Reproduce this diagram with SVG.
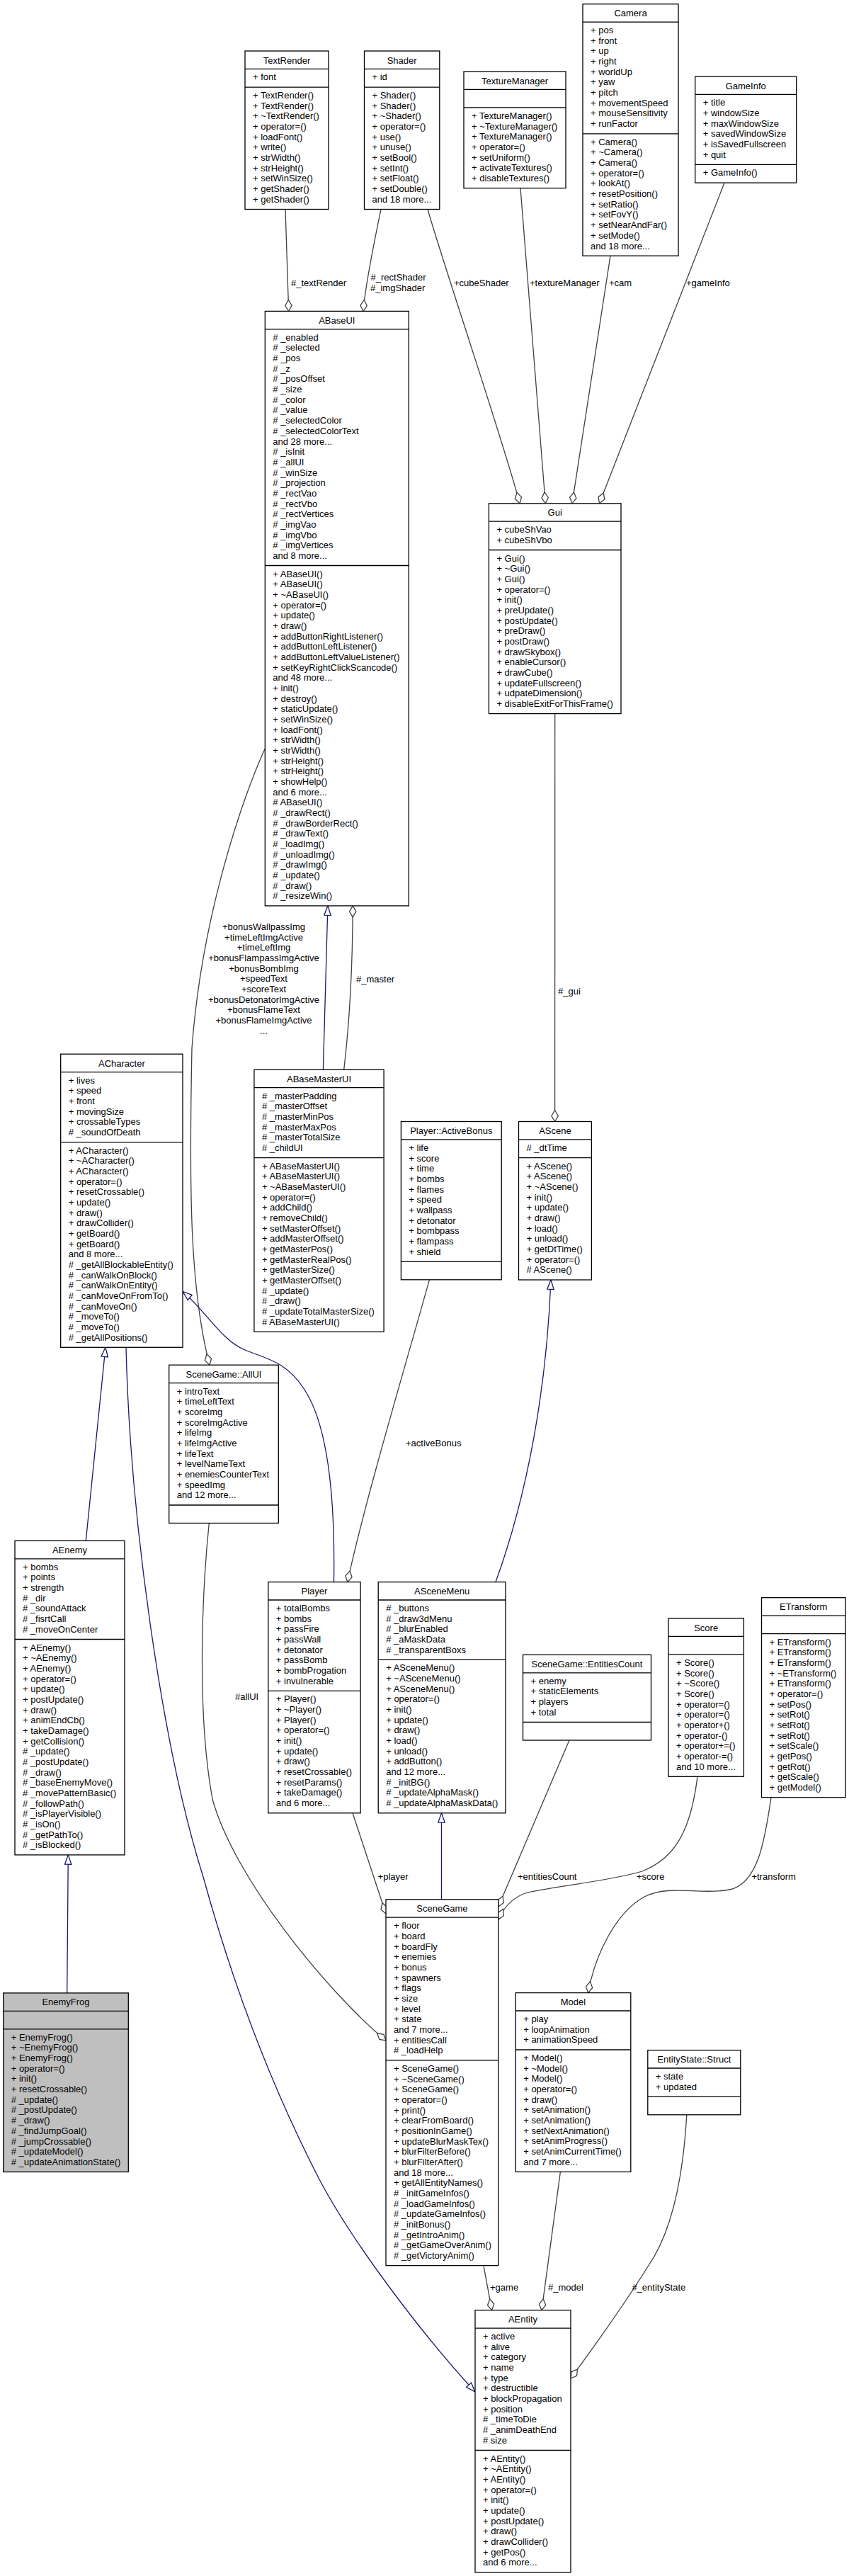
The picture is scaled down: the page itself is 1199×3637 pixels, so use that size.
<svg xmlns="http://www.w3.org/2000/svg" width="1199" height="3637" viewBox="0 0 1199 3637">
<style>
.t{font-family:"Liberation Sans",Arial,Helvetica,sans-serif;font-size:13px;fill:#000}
.c{text-anchor:middle}
.box{fill:#fff;stroke:#000;stroke-width:1.3}
.root{fill:#bfbfbf;stroke:#000;stroke-width:1.3}
.sep{fill:none;stroke:#000;stroke-width:1.3}
.e{fill:none;stroke:#404040;stroke-width:1.3;marker-end:url(#ad)}
.i{fill:none;stroke:#191970;stroke-width:1.3;marker-end:url(#ai)}
</style>
<defs>
<marker id="ai" markerUnits="userSpaceOnUse" markerWidth="14" markerHeight="10" refX="13.3" refY="0" orient="auto" overflow="visible"><path d="M0,-4.7 L13.3,0 L0,4.7 Z" fill="#fff" stroke="#191970" stroke-width="1.3"/></marker>
<marker id="ad" markerUnits="userSpaceOnUse" markerWidth="16" markerHeight="10" refX="16" refY="0" orient="auto" overflow="visible"><path d="M0,0 L8,-4.7 L16,0 L8,4.7 Z" fill="#fff" stroke="#404040" stroke-width="1.3"/></marker>
</defs>
<rect width="1199" height="3637" fill="#fff"/>
<g id="edges">
<path class="e" d="M403,295.5 L407.7,439.4"/>
<path class="e" d="M538,295.5 C533,320 516,400 513,439.4"/>
<path class="e" d="M604,295.5 C625,370 710,620 734,710.8"/>
<path class="e" d="M735,265.6 L770.3,710.8"/>
<path class="e" d="M862,361.2 L808,710.8"/>
<path class="e" d="M1023,258.1 L846.5,710.8"/>
<path class="i" d="M456.4,1510.3 L462.9,1278.9"/>
<path class="e" d="M485.7,1510.3 C494,1440 498,1360 498.2,1278.9"/>
<path class="e" d="M374.3,1057 C345,1120 285,1290 271,1480 C267,1680 268,1820 296,1927.2"/>
<path class="e" d="M783.7,1007.6 L783.6,1583.5"/>
<path class="i" d="M121.3,2175.4 L149,1902.3"/>
<path class="i" d="M471.5,2233.6 C473,2140 468,2020 430,1962 C405,1922 375,1918 346,1906 C312,1892 290,1850 258,1823.4"/>
<path class="i" d="M178,1902.3 C184,2150 230,2470 287,2650 C320,2770 370,2920 451,3077 C500,3170 600,3300 671,3377"/>
<path class="i" d="M94.7,2813.9 L96.3,2618.9"/>
<path class="e" d="M606.4,1806.8 C575,1920 515,2120 490.8,2233.6"/>
<path class="i" d="M700,2233.6 C745,2110 772,1960 778,1807"/>
<path class="i" d="M623.5,2681.8 L623.5,2559.8"/>
<path class="e" d="M295.3,2150.5 C285,2250 278,2420 300,2540 C330,2650 460,2810 545,2881"/>
<path class="e" d="M498,2559.8 L545,2702"/>
<path class="e" d="M804,2457 L703.8,2692"/>
<path class="e" d="M985,2508.3 C975,2590 950,2625 907,2642 C860,2656 790,2662 745,2672 C725,2678 712,2692 703.8,2710"/>
<path class="e" d="M1089,2537.7 C1080,2600 1070,2660 1030,2668 C990,2676 945,2660 910,2678 C870,2700 840,2760 830.7,2813.6"/>
<path class="e" d="M682.9,3198.6 L694.6,3261.7"/>
<path class="e" d="M791.4,3066.4 L765,3261.7"/>
<path class="e" d="M969.8,2985.8 C965,3070 950,3150 915,3200 C890,3240 845,3305 806,3358"/>
<text class="t" x="411" y="403.5">#_textRender</text>
<text class="t" x="523.5" y="395.5">#_rectShader</text>
<text class="t" x="523" y="410.5">#_imgShader</text>
<text class="t" x="641" y="403.5">+cubeShader</text>
<text class="t" x="748" y="403.5">+textureManager</text>
<text class="t" x="860" y="403.5">+cam</text>
<text class="t" x="969" y="403.5">+gameInfo</text>
<text class="t" x="503" y="1386.5">#_master</text>
<text class="t c" y="1312.8"><tspan x="372.5">+bonusWallpassImg</tspan><tspan x="372.5" dy="14.7">+timeLeftImgActive</tspan><tspan x="372.5" dy="14.7">+timeLeftImg</tspan><tspan x="372.5" dy="14.7">+bonusFlampassImgActive</tspan><tspan x="372.5" dy="14.7">+bonusBombImg</tspan><tspan x="372.5" dy="14.7">+speedText</tspan><tspan x="372.5" dy="14.7">+scoreText</tspan><tspan x="372.5" dy="14.7">+bonusDetonatorImgActive</tspan><tspan x="372.5" dy="14.7">+bonusFlameText</tspan><tspan x="372.5" dy="14.7">+bonusFlameImgActive</tspan><tspan x="372.5" dy="14.7">...</tspan></text>
<text class="t" x="788" y="1404">#_gui</text>
<text class="t" x="573" y="2041.5">+activeBonus</text>
<text class="t" x="332" y="2400">#allUI</text>
<text class="t" x="533.6" y="2653.5">+player</text>
<text class="t" x="731" y="2653.5">+entitiesCount</text>
<text class="t" x="899" y="2653.5">+score</text>
<text class="t" x="1061.4" y="2653.5">+transform</text>
<text class="t" x="692" y="3233.5">+game</text>
<text class="t" x="774" y="3233.5">#_model</text>
<text class="t" x="892.4" y="3233.5">#_entityState</text>
</g>
<g id="TextRender">
<rect class="box" x="346" y="72" width="118" height="223.5"/>
<path class="sep" d="M346,97.4 H464 M346,123.1 H464"/>
<text class="t c" x="405" y="89.5">TextRender</text>
<text class="t" x="357" y="113.4">+ font</text>
<text class="t" y="139.1"><tspan x="357">+ TextRender()</tspan><tspan x="357" dy="14.67">+ TextRender()</tspan><tspan x="357" dy="14.67">+ ~TextRender()</tspan><tspan x="357" dy="14.67">+ operator=()</tspan><tspan x="357" dy="14.67">+ loadFont()</tspan><tspan x="357" dy="14.67">+ write()</tspan><tspan x="357" dy="14.67">+ strWidth()</tspan><tspan x="357" dy="14.67">+ strHeight()</tspan><tspan x="357" dy="14.67">+ setWinSize()</tspan><tspan x="357" dy="14.67">+ getShader()</tspan><tspan x="357" dy="14.67">+ getShader()</tspan></text>
</g>
<g id="Shader">
<rect class="box" x="514.5" y="72" width="106.3" height="223.5"/>
<path class="sep" d="M514.5,97.4 H620.8 M514.5,123.1 H620.8"/>
<text class="t c" x="567.65" y="89.5">Shader</text>
<text class="t" x="525.5" y="113.4">+ id</text>
<text class="t" y="139.1"><tspan x="525.5">+ Shader()</tspan><tspan x="525.5" dy="14.67">+ Shader()</tspan><tspan x="525.5" dy="14.67">+ ~Shader()</tspan><tspan x="525.5" dy="14.67">+ operator=()</tspan><tspan x="525.5" dy="14.67">+ use()</tspan><tspan x="525.5" dy="14.67">+ unuse()</tspan><tspan x="525.5" dy="14.67">+ setBool()</tspan><tspan x="525.5" dy="14.67">+ setInt()</tspan><tspan x="525.5" dy="14.67">+ setFloat()</tspan><tspan x="525.5" dy="14.67">+ setDouble()</tspan><tspan x="525.5" dy="14.67">and 18 more...</tspan></text>
</g>
<g id="TextureManager">
<rect class="box" x="655" y="101" width="144" height="164.6"/>
<path class="sep" d="M655,126.4 H799 M655,151.9 H799"/>
<text class="t c" x="727" y="118.5">TextureManager</text>
<text class="t" y="167.9"><tspan x="666">+ TextureManager()</tspan><tspan x="666" dy="14.67">+ ~TextureManager()</tspan><tspan x="666" dy="14.67">+ TextureManager()</tspan><tspan x="666" dy="14.67">+ operator=()</tspan><tspan x="666" dy="14.67">+ setUniform()</tspan><tspan x="666" dy="14.67">+ activateTextures()</tspan><tspan x="666" dy="14.67">+ disableTextures()</tspan></text>
</g>
<g id="Camera">
<rect class="box" x="823" y="5.7" width="135" height="355.5"/>
<path class="sep" d="M823,31.1 H958 M823,188.8 H958"/>
<text class="t c" x="890.5" y="23.2">Camera</text>
<text class="t" y="47.1"><tspan x="834">+ pos</tspan><tspan x="834" dy="14.67">+ front</tspan><tspan x="834" dy="14.67">+ up</tspan><tspan x="834" dy="14.67">+ right</tspan><tspan x="834" dy="14.67">+ worldUp</tspan><tspan x="834" dy="14.67">+ yaw</tspan><tspan x="834" dy="14.67">+ pitch</tspan><tspan x="834" dy="14.67">+ movementSpeed</tspan><tspan x="834" dy="14.67">+ mouseSensitivity</tspan><tspan x="834" dy="14.67">+ runFactor</tspan></text>
<text class="t" y="204.8"><tspan x="834">+ Camera()</tspan><tspan x="834" dy="14.67">+ ~Camera()</tspan><tspan x="834" dy="14.67">+ Camera()</tspan><tspan x="834" dy="14.67">+ operator=()</tspan><tspan x="834" dy="14.67">+ lookAt()</tspan><tspan x="834" dy="14.67">+ resetPosition()</tspan><tspan x="834" dy="14.67">+ setRatio()</tspan><tspan x="834" dy="14.67">+ setFovY()</tspan><tspan x="834" dy="14.67">+ setNearAndFar()</tspan><tspan x="834" dy="14.67">+ setMode()</tspan><tspan x="834" dy="14.67">and 18 more...</tspan></text>
</g>
<g id="GameInfo">
<rect class="box" x="981.7" y="108" width="143" height="150.1"/>
<path class="sep" d="M981.7,133.4 H1124.7 M981.7,232.4 H1124.7"/>
<text class="t c" x="1053.2" y="125.5">GameInfo</text>
<text class="t" y="149.4"><tspan x="992.7">+ title</tspan><tspan x="992.7" dy="14.67">+ windowSize</tspan><tspan x="992.7" dy="14.67">+ maxWindowSize</tspan><tspan x="992.7" dy="14.67">+ savedWindowSize</tspan><tspan x="992.7" dy="14.67">+ isSavedFullscreen</tspan><tspan x="992.7" dy="14.67">+ quit</tspan></text>
<text class="t" x="992.7" y="248.4">+ GameInfo()</text>
</g>
<g id="ABaseUI">
<rect class="box" x="374.3" y="439.4" width="203" height="839.5"/>
<path class="sep" d="M374.3,464.8 H577.3 M374.3,798.5 H577.3"/>
<text class="t c" x="475.8" y="456.9">ABaseUI</text>
<text class="t" y="480.8"><tspan x="385.3"># _enabled</tspan><tspan x="385.3" dy="14.67"># _selected</tspan><tspan x="385.3" dy="14.67"># _pos</tspan><tspan x="385.3" dy="14.67"># _z</tspan><tspan x="385.3" dy="14.67"># _posOffset</tspan><tspan x="385.3" dy="14.67"># _size</tspan><tspan x="385.3" dy="14.67"># _color</tspan><tspan x="385.3" dy="14.67"># _value</tspan><tspan x="385.3" dy="14.67"># _selectedColor</tspan><tspan x="385.3" dy="14.67"># _selectedColorText</tspan><tspan x="385.3" dy="14.67">and 28 more...</tspan><tspan x="385.3" dy="14.67"># _isInit</tspan><tspan x="385.3" dy="14.67"># _allUI</tspan><tspan x="385.3" dy="14.67"># _winSize</tspan><tspan x="385.3" dy="14.67"># _projection</tspan><tspan x="385.3" dy="14.67"># _rectVao</tspan><tspan x="385.3" dy="14.67"># _rectVbo</tspan><tspan x="385.3" dy="14.67"># _rectVertices</tspan><tspan x="385.3" dy="14.67"># _imgVao</tspan><tspan x="385.3" dy="14.67"># _imgVbo</tspan><tspan x="385.3" dy="14.67"># _imgVertices</tspan><tspan x="385.3" dy="14.67">and 8 more...</tspan></text>
<text class="t" y="814.5"><tspan x="385.3">+ ABaseUI()</tspan><tspan x="385.3" dy="14.67">+ ABaseUI()</tspan><tspan x="385.3" dy="14.67">+ ~ABaseUI()</tspan><tspan x="385.3" dy="14.67">+ operator=()</tspan><tspan x="385.3" dy="14.67">+ update()</tspan><tspan x="385.3" dy="14.67">+ draw()</tspan><tspan x="385.3" dy="14.67">+ addButtonRightListener()</tspan><tspan x="385.3" dy="14.67">+ addButtonLeftListener()</tspan><tspan x="385.3" dy="14.67">+ addButtonLeftValueListener()</tspan><tspan x="385.3" dy="14.67">+ setKeyRightClickScancode()</tspan><tspan x="385.3" dy="14.67">and 48 more...</tspan><tspan x="385.3" dy="14.67">+ init()</tspan><tspan x="385.3" dy="14.67">+ destroy()</tspan><tspan x="385.3" dy="14.67">+ staticUpdate()</tspan><tspan x="385.3" dy="14.67">+ setWinSize()</tspan><tspan x="385.3" dy="14.67">+ loadFont()</tspan><tspan x="385.3" dy="14.67">+ strWidth()</tspan><tspan x="385.3" dy="14.67">+ strWidth()</tspan><tspan x="385.3" dy="14.67">+ strHeight()</tspan><tspan x="385.3" dy="14.67">+ strHeight()</tspan><tspan x="385.3" dy="14.67">+ showHelp()</tspan><tspan x="385.3" dy="14.67">and 6 more...</tspan><tspan x="385.3" dy="14.67"># ABaseUI()</tspan><tspan x="385.3" dy="14.67"># _drawRect()</tspan><tspan x="385.3" dy="14.67"># _drawBorderRect()</tspan><tspan x="385.3" dy="14.67"># _drawText()</tspan><tspan x="385.3" dy="14.67"># _loadImg()</tspan><tspan x="385.3" dy="14.67"># _unloadImg()</tspan><tspan x="385.3" dy="14.67"># _drawImg()</tspan><tspan x="385.3" dy="14.67"># _update()</tspan><tspan x="385.3" dy="14.67"># _draw()</tspan><tspan x="385.3" dy="14.67"># _resizeWin()</tspan></text>
</g>
<g id="Gui">
<rect class="box" x="690.4" y="710.8" width="186.6" height="296.8"/>
<path class="sep" d="M690.4,736.2 H877 M690.4,776.5 H877"/>
<text class="t c" x="783.7" y="728.3">Gui</text>
<text class="t" y="752.2"><tspan x="701.4">+ cubeShVao</tspan><tspan x="701.4" dy="14.67">+ cubeShVbo</tspan></text>
<text class="t" y="792.5"><tspan x="701.4">+ Gui()</tspan><tspan x="701.4" dy="14.67">+ ~Gui()</tspan><tspan x="701.4" dy="14.67">+ Gui()</tspan><tspan x="701.4" dy="14.67">+ operator=()</tspan><tspan x="701.4" dy="14.67">+ init()</tspan><tspan x="701.4" dy="14.67">+ preUpdate()</tspan><tspan x="701.4" dy="14.67">+ postUpdate()</tspan><tspan x="701.4" dy="14.67">+ preDraw()</tspan><tspan x="701.4" dy="14.67">+ postDraw()</tspan><tspan x="701.4" dy="14.67">+ drawSkybox()</tspan><tspan x="701.4" dy="14.67">+ enableCursor()</tspan><tspan x="701.4" dy="14.67">+ drawCube()</tspan><tspan x="701.4" dy="14.67">+ updateFullscreen()</tspan><tspan x="701.4" dy="14.67">+ udpateDimension()</tspan><tspan x="701.4" dy="14.67">+ disableExitForThisFrame()</tspan></text>
</g>
<g id="ABaseMasterUI">
<rect class="box" x="358.9" y="1510.3" width="183.2" height="370.1"/>
<path class="sep" d="M358.9,1535.7 H542.1 M358.9,1634.7 H542.1"/>
<text class="t c" x="450.5" y="1527.8">ABaseMasterUI</text>
<text class="t" y="1551.7"><tspan x="369.9"># _masterPadding</tspan><tspan x="369.9" dy="14.67"># _masterOffset</tspan><tspan x="369.9" dy="14.67"># _masterMinPos</tspan><tspan x="369.9" dy="14.67"># _masterMaxPos</tspan><tspan x="369.9" dy="14.67"># _masterTotalSize</tspan><tspan x="369.9" dy="14.67"># _childUI</tspan></text>
<text class="t" y="1650.7"><tspan x="369.9">+ ABaseMasterUI()</tspan><tspan x="369.9" dy="14.67">+ ABaseMasterUI()</tspan><tspan x="369.9" dy="14.67">+ ~ABaseMasterUI()</tspan><tspan x="369.9" dy="14.67">+ operator=()</tspan><tspan x="369.9" dy="14.67">+ addChild()</tspan><tspan x="369.9" dy="14.67">+ removeChild()</tspan><tspan x="369.9" dy="14.67">+ setMasterOffset()</tspan><tspan x="369.9" dy="14.67">+ addMasterOffset()</tspan><tspan x="369.9" dy="14.67">+ getMasterPos()</tspan><tspan x="369.9" dy="14.67">+ getMasterRealPos()</tspan><tspan x="369.9" dy="14.67">+ getMasterSize()</tspan><tspan x="369.9" dy="14.67">+ getMasterOffset()</tspan><tspan x="369.9" dy="14.67"># _update()</tspan><tspan x="369.9" dy="14.67"># _draw()</tspan><tspan x="369.9" dy="14.67"># _updateTotalMasterSize()</tspan><tspan x="369.9" dy="14.67"># ABaseMasterUI()</tspan></text>
</g>
<g id="PlayerActiveBonus">
<rect class="box" x="566.4" y="1583.5" width="141.8" height="223.3"/>
<path class="sep" d="M566.4,1608.9 H708.2 M566.4,1781.3 H708.2"/>
<text class="t c" x="637.3" y="1601">Player::ActiveBonus</text>
<text class="t" y="1624.9"><tspan x="577.4">+ life</tspan><tspan x="577.4" dy="14.67">+ score</tspan><tspan x="577.4" dy="14.67">+ time</tspan><tspan x="577.4" dy="14.67">+ bombs</tspan><tspan x="577.4" dy="14.67">+ flames</tspan><tspan x="577.4" dy="14.67">+ speed</tspan><tspan x="577.4" dy="14.67">+ wallpass</tspan><tspan x="577.4" dy="14.67">+ detonator</tspan><tspan x="577.4" dy="14.67">+ bombpass</tspan><tspan x="577.4" dy="14.67">+ flampass</tspan><tspan x="577.4" dy="14.67">+ shield</tspan></text>
</g>
<g id="AScene">
<rect class="box" x="732.5" y="1583.5" width="102.9" height="223.5"/>
<path class="sep" d="M732.5,1608.9 H835.4 M732.5,1634.6 H835.4"/>
<text class="t c" x="783.95" y="1601">AScene</text>
<text class="t" x="743.5" y="1624.9"># _dtTime</text>
<text class="t" y="1650.6"><tspan x="743.5">+ AScene()</tspan><tspan x="743.5" dy="14.67">+ AScene()</tspan><tspan x="743.5" dy="14.67">+ ~AScene()</tspan><tspan x="743.5" dy="14.67">+ init()</tspan><tspan x="743.5" dy="14.67">+ update()</tspan><tspan x="743.5" dy="14.67">+ draw()</tspan><tspan x="743.5" dy="14.67">+ load()</tspan><tspan x="743.5" dy="14.67">+ unload()</tspan><tspan x="743.5" dy="14.67">+ getDtTime()</tspan><tspan x="743.5" dy="14.67">+ operator=()</tspan><tspan x="743.5" dy="14.67"># AScene()</tspan></text>
</g>
<g id="ACharacter">
<rect class="box" x="85.7" y="1488.2" width="172.3" height="414.1"/>
<path class="sep" d="M85.7,1513.6 H258 M85.7,1612.6 H258"/>
<text class="t c" x="171.85" y="1505.7">ACharacter</text>
<text class="t" y="1529.6"><tspan x="96.7">+ lives</tspan><tspan x="96.7" dy="14.67">+ speed</tspan><tspan x="96.7" dy="14.67">+ front</tspan><tspan x="96.7" dy="14.67">+ movingSize</tspan><tspan x="96.7" dy="14.67">+ crossableTypes</tspan><tspan x="96.7" dy="14.67"># _soundOfDeath</tspan></text>
<text class="t" y="1628.6"><tspan x="96.7">+ ACharacter()</tspan><tspan x="96.7" dy="14.67">+ ~ACharacter()</tspan><tspan x="96.7" dy="14.67">+ ACharacter()</tspan><tspan x="96.7" dy="14.67">+ operator=()</tspan><tspan x="96.7" dy="14.67">+ resetCrossable()</tspan><tspan x="96.7" dy="14.67">+ update()</tspan><tspan x="96.7" dy="14.67">+ draw()</tspan><tspan x="96.7" dy="14.67">+ drawCollider()</tspan><tspan x="96.7" dy="14.67">+ getBoard()</tspan><tspan x="96.7" dy="14.67">+ getBoard()</tspan><tspan x="96.7" dy="14.67">and 8 more...</tspan><tspan x="96.7" dy="14.67"># _getAllBlockableEntity()</tspan><tspan x="96.7" dy="14.67"># _canWalkOnBlock()</tspan><tspan x="96.7" dy="14.67"># _canWalkOnEntity()</tspan><tspan x="96.7" dy="14.67"># _canMoveOnFromTo()</tspan><tspan x="96.7" dy="14.67"># _canMoveOn()</tspan><tspan x="96.7" dy="14.67"># _moveTo()</tspan><tspan x="96.7" dy="14.67"># _moveTo()</tspan><tspan x="96.7" dy="14.67"># _getAllPositions()</tspan></text>
</g>
<g id="SceneGameAllUI">
<rect class="box" x="238.7" y="1927.2" width="154.6" height="223.3"/>
<path class="sep" d="M238.7,1952.6 H393.3 M238.7,2125 H393.3"/>
<text class="t c" x="316" y="1944.7">SceneGame::AllUI</text>
<text class="t" y="1968.6"><tspan x="249.7">+ introText</tspan><tspan x="249.7" dy="14.67">+ timeLeftText</tspan><tspan x="249.7" dy="14.67">+ scoreImg</tspan><tspan x="249.7" dy="14.67">+ scoreImgActive</tspan><tspan x="249.7" dy="14.67">+ lifeImg</tspan><tspan x="249.7" dy="14.67">+ lifeImgActive</tspan><tspan x="249.7" dy="14.67">+ lifeText</tspan><tspan x="249.7" dy="14.67">+ levelNameText</tspan><tspan x="249.7" dy="14.67">+ enemiesCounterText</tspan><tspan x="249.7" dy="14.67">+ speedImg</tspan><tspan x="249.7" dy="14.67">and 12 more...</tspan></text>
</g>
<g id="AEnemy">
<rect class="box" x="21" y="2175.4" width="155" height="443.5"/>
<path class="sep" d="M21,2200.8 H176 M21,2314.5 H176"/>
<text class="t c" x="98.5" y="2192.9">AEnemy</text>
<text class="t" y="2216.8"><tspan x="32">+ bombs</tspan><tspan x="32" dy="14.67">+ points</tspan><tspan x="32" dy="14.67">+ strength</tspan><tspan x="32" dy="14.67"># _dir</tspan><tspan x="32" dy="14.67"># _soundAttack</tspan><tspan x="32" dy="14.67"># _fisrtCall</tspan><tspan x="32" dy="14.67"># _moveOnCenter</tspan></text>
<text class="t" y="2330.5"><tspan x="32">+ AEnemy()</tspan><tspan x="32" dy="14.67">+ ~AEnemy()</tspan><tspan x="32" dy="14.67">+ AEnemy()</tspan><tspan x="32" dy="14.67">+ operator=()</tspan><tspan x="32" dy="14.67">+ update()</tspan><tspan x="32" dy="14.67">+ postUpdate()</tspan><tspan x="32" dy="14.67">+ draw()</tspan><tspan x="32" dy="14.67">+ animEndCb()</tspan><tspan x="32" dy="14.67">+ takeDamage()</tspan><tspan x="32" dy="14.67">+ getCollision()</tspan><tspan x="32" dy="14.67"># _update()</tspan><tspan x="32" dy="14.67"># _postUpdate()</tspan><tspan x="32" dy="14.67"># _draw()</tspan><tspan x="32" dy="14.67"># _baseEnemyMove()</tspan><tspan x="32" dy="14.67"># _movePatternBasic()</tspan><tspan x="32" dy="14.67"># _followPath()</tspan><tspan x="32" dy="14.67"># _isPlayerVisible()</tspan><tspan x="32" dy="14.67"># _isOn()</tspan><tspan x="32" dy="14.67"># _getPathTo()</tspan><tspan x="32" dy="14.67"># _isBlocked()</tspan></text>
</g>
<g id="EnemyFrog">
<rect class="root" x="4.7" y="2813.9" width="176.6" height="252.6"/>
<path class="sep" d="M4.7,2839.3 H181.3 M4.7,2864.8 H181.3"/>
<text class="t c" x="93" y="2831.4">EnemyFrog</text>
<text class="t" y="2880.8"><tspan x="15.7">+ EnemyFrog()</tspan><tspan x="15.7" dy="14.67">+ ~EnemyFrog()</tspan><tspan x="15.7" dy="14.67">+ EnemyFrog()</tspan><tspan x="15.7" dy="14.67">+ operator=()</tspan><tspan x="15.7" dy="14.67">+ init()</tspan><tspan x="15.7" dy="14.67">+ resetCrossable()</tspan><tspan x="15.7" dy="14.67"># _update()</tspan><tspan x="15.7" dy="14.67"># _postUpdate()</tspan><tspan x="15.7" dy="14.67"># _draw()</tspan><tspan x="15.7" dy="14.67"># _findJumpGoal()</tspan><tspan x="15.7" dy="14.67"># _jumpCrossable()</tspan><tspan x="15.7" dy="14.67"># _updateModel()</tspan><tspan x="15.7" dy="14.67"># _updateAnimationState()</tspan></text>
</g>
<g id="Player">
<rect class="box" x="378.8" y="2233.6" width="130.3" height="326.2"/>
<path class="sep" d="M378.8,2259 H509.1 M378.8,2387.4 H509.1"/>
<text class="t c" x="443.95" y="2251.1">Player</text>
<text class="t" y="2275"><tspan x="389.8">+ totalBombs</tspan><tspan x="389.8" dy="14.67">+ bombs</tspan><tspan x="389.8" dy="14.67">+ passFire</tspan><tspan x="389.8" dy="14.67">+ passWall</tspan><tspan x="389.8" dy="14.67">+ detonator</tspan><tspan x="389.8" dy="14.67">+ passBomb</tspan><tspan x="389.8" dy="14.67">+ bombProgation</tspan><tspan x="389.8" dy="14.67">+ invulnerable</tspan></text>
<text class="t" y="2403.4"><tspan x="389.8">+ Player()</tspan><tspan x="389.8" dy="14.67">+ ~Player()</tspan><tspan x="389.8" dy="14.67">+ Player()</tspan><tspan x="389.8" dy="14.67">+ operator=()</tspan><tspan x="389.8" dy="14.67">+ init()</tspan><tspan x="389.8" dy="14.67">+ update()</tspan><tspan x="389.8" dy="14.67">+ draw()</tspan><tspan x="389.8" dy="14.67">+ resetCrossable()</tspan><tspan x="389.8" dy="14.67">+ resetParams()</tspan><tspan x="389.8" dy="14.67">+ takeDamage()</tspan><tspan x="389.8" dy="14.67">and 6 more...</tspan></text>
</g>
<g id="ASceneMenu">
<rect class="box" x="534.2" y="2233.6" width="179.8" height="326.2"/>
<path class="sep" d="M534.2,2259 H714 M534.2,2343.4 H714"/>
<text class="t c" x="624.1" y="2251.1">ASceneMenu</text>
<text class="t" y="2275"><tspan x="545.2"># _buttons</tspan><tspan x="545.2" dy="14.67"># _draw3dMenu</tspan><tspan x="545.2" dy="14.67"># _blurEnabled</tspan><tspan x="545.2" dy="14.67"># _aMaskData</tspan><tspan x="545.2" dy="14.67"># _transparentBoxs</tspan></text>
<text class="t" y="2359.4"><tspan x="545.2">+ ASceneMenu()</tspan><tspan x="545.2" dy="14.67">+ ~ASceneMenu()</tspan><tspan x="545.2" dy="14.67">+ ASceneMenu()</tspan><tspan x="545.2" dy="14.67">+ operator=()</tspan><tspan x="545.2" dy="14.67">+ init()</tspan><tspan x="545.2" dy="14.67">+ update()</tspan><tspan x="545.2" dy="14.67">+ draw()</tspan><tspan x="545.2" dy="14.67">+ load()</tspan><tspan x="545.2" dy="14.67">+ unload()</tspan><tspan x="545.2" dy="14.67">+ addButton()</tspan><tspan x="545.2" dy="14.67">and 12 more...</tspan><tspan x="545.2" dy="14.67"># _initBG()</tspan><tspan x="545.2" dy="14.67"># _updateAlphaMask()</tspan><tspan x="545.2" dy="14.67"># _updateAlphaMaskData()</tspan></text>
</g>
<g id="SceneGameEntitiesCount">
<rect class="box" x="738.5" y="2336.4" width="181" height="120.6"/>
<path class="sep" d="M738.5,2361.8 H919.5 M738.5,2431.5 H919.5"/>
<text class="t c" x="829" y="2353.9">SceneGame::EntitiesCount</text>
<text class="t" y="2377.8"><tspan x="749.5">+ enemy</tspan><tspan x="749.5" dy="14.67">+ staticElements</tspan><tspan x="749.5" dy="14.67">+ players</tspan><tspan x="749.5" dy="14.67">+ total</tspan></text>
</g>
<g id="Score">
<rect class="box" x="944" y="2285" width="106.4" height="223.3"/>
<path class="sep" d="M944,2310.4 H1050.4 M944,2335.9 H1050.4"/>
<text class="t c" x="997.2" y="2302.5">Score</text>
<text class="t" y="2351.9"><tspan x="955">+ Score()</tspan><tspan x="955" dy="14.67">+ Score()</tspan><tspan x="955" dy="14.67">+ ~Score()</tspan><tspan x="955" dy="14.67">+ Score()</tspan><tspan x="955" dy="14.67">+ operator=()</tspan><tspan x="955" dy="14.67">+ operator=()</tspan><tspan x="955" dy="14.67">+ operator+()</tspan><tspan x="955" dy="14.67">+ operator-()</tspan><tspan x="955" dy="14.67">+ operator+=()</tspan><tspan x="955" dy="14.67">+ operator-=()</tspan><tspan x="955" dy="14.67">and 10 more...</tspan></text>
</g>
<g id="ETransform">
<rect class="box" x="1075.5" y="2255.7" width="118.5" height="282"/>
<path class="sep" d="M1075.5,2281.1 H1194 M1075.5,2306.6 H1194"/>
<text class="t c" x="1134.75" y="2273.2">ETransform</text>
<text class="t" y="2322.6"><tspan x="1086.5">+ ETransform()</tspan><tspan x="1086.5" dy="14.67">+ ETransform()</tspan><tspan x="1086.5" dy="14.67">+ ETransform()</tspan><tspan x="1086.5" dy="14.67">+ ~ETransform()</tspan><tspan x="1086.5" dy="14.67">+ ETransform()</tspan><tspan x="1086.5" dy="14.67">+ operator=()</tspan><tspan x="1086.5" dy="14.67">+ setPos()</tspan><tspan x="1086.5" dy="14.67">+ setRot()</tspan><tspan x="1086.5" dy="14.67">+ setRot()</tspan><tspan x="1086.5" dy="14.67">+ setRot()</tspan><tspan x="1086.5" dy="14.67">+ setScale()</tspan><tspan x="1086.5" dy="14.67">+ getPos()</tspan><tspan x="1086.5" dy="14.67">+ getRot()</tspan><tspan x="1086.5" dy="14.67">+ getScale()</tspan><tspan x="1086.5" dy="14.67">+ getModel()</tspan></text>
</g>
<g id="SceneGame">
<rect class="box" x="545" y="2681.8" width="158.8" height="516.8"/>
<path class="sep" d="M545,2707.2 H703.8 M545,2908.9 H703.8"/>
<text class="t c" x="624.4" y="2699.3">SceneGame</text>
<text class="t" y="2723.2"><tspan x="556">+ floor</tspan><tspan x="556" dy="14.67">+ board</tspan><tspan x="556" dy="14.67">+ boardFly</tspan><tspan x="556" dy="14.67">+ enemies</tspan><tspan x="556" dy="14.67">+ bonus</tspan><tspan x="556" dy="14.67">+ spawners</tspan><tspan x="556" dy="14.67">+ flags</tspan><tspan x="556" dy="14.67">+ size</tspan><tspan x="556" dy="14.67">+ level</tspan><tspan x="556" dy="14.67">+ state</tspan><tspan x="556" dy="14.67">and 7 more...</tspan><tspan x="556" dy="14.67">+ entitiesCall</tspan><tspan x="556" dy="14.67"># _loadHelp</tspan></text>
<text class="t" y="2924.9"><tspan x="556">+ SceneGame()</tspan><tspan x="556" dy="14.67">+ ~SceneGame()</tspan><tspan x="556" dy="14.67">+ SceneGame()</tspan><tspan x="556" dy="14.67">+ operator=()</tspan><tspan x="556" dy="14.67">+ print()</tspan><tspan x="556" dy="14.67">+ clearFromBoard()</tspan><tspan x="556" dy="14.67">+ positionInGame()</tspan><tspan x="556" dy="14.67">+ updateBlurMaskTex()</tspan><tspan x="556" dy="14.67">+ blurFilterBefore()</tspan><tspan x="556" dy="14.67">+ blurFilterAfter()</tspan><tspan x="556" dy="14.67">and 18 more...</tspan><tspan x="556" dy="14.67">+ getAllEntityNames()</tspan><tspan x="556" dy="14.67"># _initGameInfos()</tspan><tspan x="556" dy="14.67"># _loadGameInfos()</tspan><tspan x="556" dy="14.67"># _updateGameInfos()</tspan><tspan x="556" dy="14.67"># _initBonus()</tspan><tspan x="556" dy="14.67"># _getIntroAnim()</tspan><tspan x="556" dy="14.67"># _getGameOverAnim()</tspan><tspan x="556" dy="14.67"># _getVictoryAnim()</tspan></text>
</g>
<g id="Model">
<rect class="box" x="728.2" y="2813.6" width="162.6" height="252.8"/>
<path class="sep" d="M728.2,2839 H890.8 M728.2,2894 H890.8"/>
<text class="t c" x="809.5" y="2831.1">Model</text>
<text class="t" y="2855"><tspan x="739.2">+ play</tspan><tspan x="739.2" dy="14.67">+ loopAnimation</tspan><tspan x="739.2" dy="14.67">+ animationSpeed</tspan></text>
<text class="t" y="2910"><tspan x="739.2">+ Model()</tspan><tspan x="739.2" dy="14.67">+ ~Model()</tspan><tspan x="739.2" dy="14.67">+ Model()</tspan><tspan x="739.2" dy="14.67">+ operator=()</tspan><tspan x="739.2" dy="14.67">+ draw()</tspan><tspan x="739.2" dy="14.67">+ setAnimation()</tspan><tspan x="739.2" dy="14.67">+ setAnimation()</tspan><tspan x="739.2" dy="14.67">+ setNextAnimation()</tspan><tspan x="739.2" dy="14.67">+ setAnimProgress()</tspan><tspan x="739.2" dy="14.67">+ setAnimCurrentTime()</tspan><tspan x="739.2" dy="14.67">and 7 more...</tspan></text>
</g>
<g id="EntityStateStruct">
<rect class="box" x="914.8" y="2894.6" width="131" height="91.2"/>
<path class="sep" d="M914.8,2920 H1045.8 M914.8,2960.3 H1045.8"/>
<text class="t c" x="980.3" y="2912.1">EntityState::Struct</text>
<text class="t" y="2936"><tspan x="925.8">+ state</tspan><tspan x="925.8" dy="14.67">+ updated</tspan></text>
</g>
<g id="AEntity">
<rect class="box" x="671" y="3261.7" width="135" height="370.2"/>
<path class="sep" d="M671,3287.1 H806 M671,3459.5 H806"/>
<text class="t c" x="738.5" y="3279.2">AEntity</text>
<text class="t" y="3303.1"><tspan x="682">+ active</tspan><tspan x="682" dy="14.67">+ alive</tspan><tspan x="682" dy="14.67">+ category</tspan><tspan x="682" dy="14.67">+ name</tspan><tspan x="682" dy="14.67">+ type</tspan><tspan x="682" dy="14.67">+ destructible</tspan><tspan x="682" dy="14.67">+ blockPropagation</tspan><tspan x="682" dy="14.67">+ position</tspan><tspan x="682" dy="14.67"># _timeToDie</tspan><tspan x="682" dy="14.67"># _animDeathEnd</tspan><tspan x="682" dy="14.67"># size</tspan></text>
<text class="t" y="3475.5"><tspan x="682">+ AEntity()</tspan><tspan x="682" dy="14.67">+ ~AEntity()</tspan><tspan x="682" dy="14.67">+ AEntity()</tspan><tspan x="682" dy="14.67">+ operator=()</tspan><tspan x="682" dy="14.67">+ init()</tspan><tspan x="682" dy="14.67">+ update()</tspan><tspan x="682" dy="14.67">+ postUpdate()</tspan><tspan x="682" dy="14.67">+ draw()</tspan><tspan x="682" dy="14.67">+ drawCollider()</tspan><tspan x="682" dy="14.67">+ getPos()</tspan><tspan x="682" dy="14.67">and 6 more...</tspan></text>
</g>
</svg>
